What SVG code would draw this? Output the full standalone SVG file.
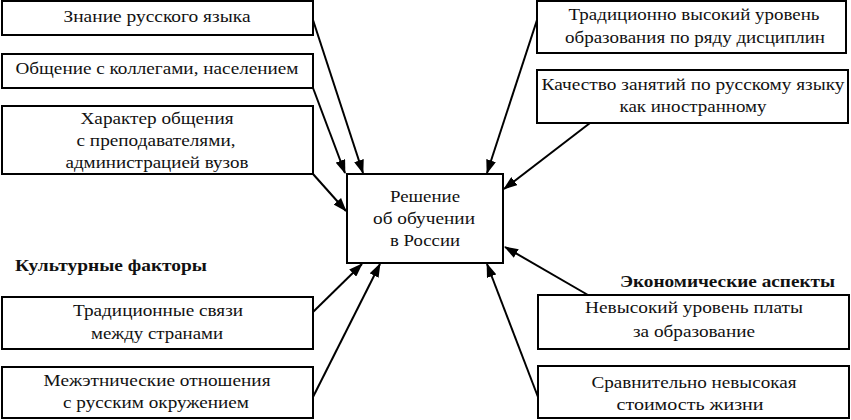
<svg xmlns="http://www.w3.org/2000/svg" width="851" height="420" viewBox="0 0 851 420">
<style>
.box{fill:#fff;stroke:#000;stroke-width:2}
.t{font-family:"Liberation Serif","Times New Roman",serif;font-size:17px;fill:#111;text-anchor:middle}
.h{font-family:"Liberation Serif","Times New Roman",serif;font-size:17px;font-weight:bold;fill:#111}
.c line{stroke:#000;stroke-width:2;marker-end:url(#ah)}
</style>
<defs>
<marker id="ah" viewBox="0 0 14 10" refX="13" refY="5" markerWidth="14" markerHeight="10" markerUnits="userSpaceOnUse" orient="auto">
<path d="M0,0 L14,5 L0,10 z" fill="#000"/>
</marker>
</defs>
<rect width="851" height="420" fill="#fff"/>
<g class="c">
<line x1="313" y1="20" x2="363" y2="173"/>
<line x1="313" y1="88" x2="345" y2="173"/>
<line x1="313" y1="174" x2="346" y2="211"/>
<line x1="537" y1="20" x2="487" y2="173"/>
<line x1="590" y1="123" x2="504" y2="189"/>
<line x1="588" y1="295" x2="505" y2="247"/>
<line x1="538" y1="397" x2="487" y2="264"/>
<line x1="313" y1="312" x2="362" y2="264"/>
<line x1="313" y1="397" x2="380" y2="264"/>
</g>
<g id="n1"><rect class="box" x="2" y="1" width="311" height="34"/><text class="t" x="157" y="22" textLength="187" lengthAdjust="spacingAndGlyphs">Знание русского языка</text></g>
<g id="n2"><rect class="box" x="2" y="54" width="311" height="34"/><text class="t" x="157" y="74" textLength="283" lengthAdjust="spacingAndGlyphs">Общение с коллегами, населением</text></g>
<g id="n3"><rect class="box" x="2" y="106" width="311" height="68"/><text class="t" x="157" y="124" textLength="153" lengthAdjust="spacingAndGlyphs">Характер общения</text><text class="t" x="156" y="146" textLength="159" lengthAdjust="spacingAndGlyphs">с преподавателями,</text><text class="t" x="157" y="168" textLength="183" lengthAdjust="spacingAndGlyphs">администрацией вузов</text></g>
<g id="n4"><rect class="box" x="537" y="1" width="309" height="52"/><text class="t" x="694" y="20" textLength="251" lengthAdjust="spacingAndGlyphs">Традиционно высокий уровень</text><text class="t" x="695" y="43" textLength="260" lengthAdjust="spacingAndGlyphs">образования по ряду дисциплин</text></g>
<g id="n5"><rect class="box" x="537" y="70" width="311" height="53"/><text class="t" x="693" y="90" textLength="303" lengthAdjust="spacingAndGlyphs">Качество занятий по русскому языку</text><text class="t" x="693" y="112" textLength="147" lengthAdjust="spacingAndGlyphs">как иностранному</text></g>
<g id="center"><rect class="box" x="347" y="174" width="156" height="89"/><text class="t" x="425" y="202" textLength="70" lengthAdjust="spacingAndGlyphs">Решение</text><text class="t" x="424" y="224" textLength="102" lengthAdjust="spacingAndGlyphs">об обучении</text><text class="t" x="425" y="246" textLength="70" lengthAdjust="spacingAndGlyphs">в России</text></g>
<g id="lbl1"><text class="h" x="15" y="271" textLength="192" lengthAdjust="spacingAndGlyphs">Культурные факторы</text></g>
<g id="lbl2"><text class="h" x="620" y="287" textLength="215" lengthAdjust="spacingAndGlyphs">Экономические аспекты</text></g>
<g id="n6"><rect class="box" x="2" y="297" width="311" height="52"/><text class="t" x="158" y="316" textLength="170" lengthAdjust="spacingAndGlyphs">Традиционные связи</text><text class="t" x="157" y="339" textLength="132" lengthAdjust="spacingAndGlyphs">между странами</text></g>
<g id="n7"><rect class="box" x="2" y="367" width="311" height="51"/><text class="t" x="157" y="386" textLength="227" lengthAdjust="spacingAndGlyphs">Межэтнические отношения</text><text class="t" x="156" y="408" textLength="186" lengthAdjust="spacingAndGlyphs">с русским окружением</text></g>
<g id="n8"><rect class="box" x="538" y="295" width="311" height="54"/><text class="t" x="694" y="313" textLength="218" lengthAdjust="spacingAndGlyphs">Невысокий уровень платы</text><text class="t" x="694" y="337" textLength="122" lengthAdjust="spacingAndGlyphs">за образование</text></g>
<g id="n9"><rect class="box" x="538" y="366" width="311" height="52"/><text class="t" x="694" y="388" textLength="205" lengthAdjust="spacingAndGlyphs">Сравнительно невысокая</text><text class="t" x="690" y="410" textLength="147" lengthAdjust="spacingAndGlyphs">стоимость жизни</text></g>
</svg>
